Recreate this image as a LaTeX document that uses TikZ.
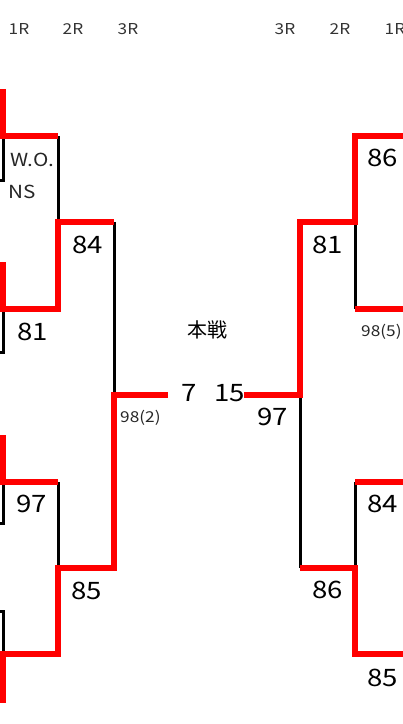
\documentclass[tikz,border=0pt]{standalone}
\usepackage{fontspec}
\setmainfont[FakeStretch=1.15]{Noto Sans CJK JP}
\newfontfamily\jpfont{Noto Sans CJK JP}

\begin{document}
\begin{tikzpicture}[
  x=1pt,y=-1pt,
  win/.style={draw=red,line width=5.5pt},
  lose/.style={draw=black,line width=3pt},
  score/.style={font=\fontsize{24}{24}\selectfont,inner sep=0pt,anchor=west},
  seed/.style={font=\fontsize{15}{15}\selectfont,text=black!85,inner sep=0pt,anchor=west},
  note/.style={font=\fontsize{18}{18}\selectfont,text=black!85,inner sep=0pt,anchor=west},
  rlabel/.style={font=\fontsize{15}{15}\selectfont,text=black!80,inner sep=0pt},
  every node/.style={align=center}]

  \useasboundingbox (0,0) rectangle (403,724);

  % Round headers
  \node[rlabel] (l1) at (19,29) {1R};
  \node[rlabel] (l2) at (73,29) {2R};
  \node[rlabel] (l3) at (128,29) {3R};
  \node[rlabel] (r3) at (285,29) {3R};
  \node[rlabel] (r2) at (340,29) {2R};
  \node[rlabel] (r1) at (395,29) {1R};

  % Left half: losing lines first, winning lines on top
  \draw[lose] (3,136) -- (3,180) -- (-10,180);
  \draw[lose] (3,309) -- (3,352) -- (-10,352);
  \draw[lose] (3,482) -- (3,523) -- (-10,523);
  \draw[lose] (-10,611) -- (3,611) -- (3,654);
  \draw[lose] (58,136) -- (58,222);
  \draw[lose] (58,482) -- (58,568);
  \draw[lose] (114,222) -- (114,395);

  \draw[win] (-10,92) -- (3,92) -- (3,136) -- (58,136);
  \draw[win] (-10,265) -- (3,265) -- (3,309) -- (58,309) -- (58,222) -- (114,222);
  \draw[win] (-10,438) -- (3,438) -- (3,482) -- (58,482);
  \draw[win] (-10,700) -- (3,700) -- (3,654) -- (58,654) -- (58,568) -- (114,568)
    -- (114,395) -- (168,395);

  % Right half
  \draw[lose] (355,222) -- (355,309);
  \draw[lose] (355,482) -- (355,568);
  \draw[lose] (300,395) -- (300,568);

  \draw[win] (413,136) -- (355,136) -- (355,222) -- (300,222) -- (300,395) -- (244,395);
  \draw[win] (413,309) -- (355,309);
  \draw[win] (413,482) -- (355,482);
  \draw[win] (413,654) -- (355,654) -- (355,568) -- (300,568);

  % Scores and seeds, left
  \node[note] (wo) at (10,160) {W.O.};
  \node[note] (ns) at (8,192) {NS};
  \node[score] (la) at (17,332) {81};
  \node[score] (lb) at (16,504) {97};
  \node[score] (lc) at (72,245) {84};
  \node[score] (ld) at (71,591) {85};
  \node[seed] (le) at (120,418) {98(2)};
  \node[score] (lf) at (181,393) {7};

  % Scores and seeds, right
  \node[score] (ra) at (367,158) {86};
  \node[seed] (rb) at (361,332) {98(5)};
  \node[score] (rc) at (312,245) {81};
  \node[score] (rd) at (367,504) {84};
  \node[score] (re) at (367,678) {85};
  \node[score] (rf) at (312,590) {86};
  \node[score] (rg) at (257,417) {97};
  \node[score] (rh) at (214,393) {15};

  \node[font=\jpfont\fontsize{20}{20}\selectfont,inner sep=0pt] (main) at (207,330) {本戦};

\end{tikzpicture}
\end{document}
